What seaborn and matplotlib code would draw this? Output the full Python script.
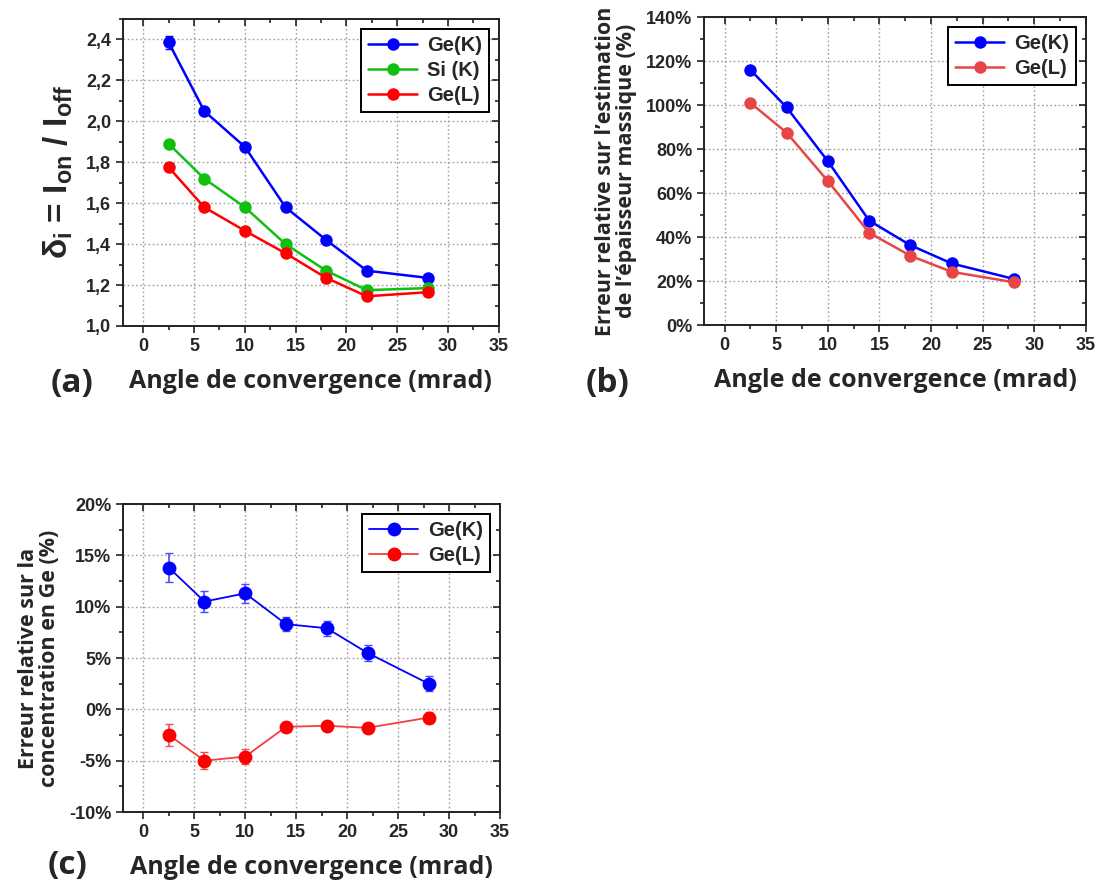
import numpy as np
import pandas as pd
import matplotlib
matplotlib.use("Agg")
import matplotlib.pyplot as plt
from matplotlib.ticker import MultipleLocator, AutoMinorLocator, FuncFormatter
import seaborn as sns

# ---------------- data ----------------
angle = [2.5, 6, 10, 14, 18, 22, 28]

# (a) delta_i = I_on / I_off
a_geK = [2.385, 2.05, 1.875, 1.58, 1.42, 1.27, 1.235]
a_geK_err = [0.03, 0.012, 0.01, 0.01, 0.008, 0.008, 0.008]
a_siK = [1.89, 1.72, 1.58, 1.40, 1.27, 1.175, 1.185]
a_geL = [1.775, 1.58, 1.465, 1.355, 1.235, 1.145, 1.165]

# (b) relative error on mass thickness (%)
b_geK = [116, 99, 74.5, 47.5, 36.3, 28, 21]
b_geL = [101, 87.5, 65.5, 42, 31.5, 24.2, 19.5]

# (c) relative error on Ge concentration (%)
c_geK = [13.8, 10.5, 11.3, 8.3, 7.9, 5.5, 2.5]
c_geK_err = [1.4, 1.0, 0.9, 0.7, 0.75, 0.75, 0.7]
c_geL = [-2.5, -5.0, -4.6, -1.7, -1.6, -1.8, -0.8]
c_geL_err = [1.1, 0.8, 0.7, 0.5, 0.5, 0.5, 0.5]

xlabel = "Angle de convergence (mrad)"

# ---------------- style ----------------
sns.set_theme(style="ticks")
plt.rcParams["font.family"] = ["Liberation Sans", "DejaVu Sans"]
plt.rcParams["font.weight"] = "bold"
plt.rcParams["mathtext.fontset"] = "custom"
plt.rcParams["mathtext.rm"] = "Liberation Sans:bold"
plt.rcParams["mathtext.bf"] = "Liberation Sans:bold"
plt.rcParams["mathtext.it"] = "Liberation Sans:bold"

LBL_FONT = ["Open Sans", "DejaVu Sans"]

BLUE = "#0000ff"
GREEN = "#10c010"
RED = "#ff0000"
RED_B = "#e84646"

fig = plt.figure(figsize=(10.96, 8.81), dpi=100)
ax_a = fig.add_axes([0.1122, 0.630, 0.343, 0.3485])
ax_b = fig.add_axes([0.6423, 0.631, 0.3485, 0.3496])
ax_c = fig.add_axes([0.1122, 0.0783, 0.344, 0.3496])


def style_axes(ax):
    ax.set_xlim(-2, 35)
    ax.xaxis.set_major_locator(MultipleLocator(5))
    ax.xaxis.set_minor_locator(MultipleLocator(2.5))
    for s in ax.spines.values():
        s.set_visible(True)
        s.set_linewidth(1.4)
        s.set_color("#222222")
    ax.tick_params(which="both", top=True, right=True, bottom=True, left=True,
                   width=1.2, color="#222222", direction="out")
    ax.tick_params(which="major", length=5, labelsize=13)
    ax.tick_params(which="minor", length=3)
    # top/right ticks point inward
    for t in ax.xaxis.get_major_ticks() + ax.xaxis.get_minor_ticks():
        t.tick2line.set_marker(3)
    for t in ax.yaxis.get_major_ticks() + ax.yaxis.get_minor_ticks():
        t.tick2line.set_marker(0)
    ax.grid(True, which="major", linestyle=(0, (1.2, 1.8)), color="#a0a0a0", linewidth=1.0)
    ax.set_axisbelow(True)
    for lab in ax.get_xticklabels() + ax.get_yticklabels():
        lab.set_fontweight("bold")
    ax.set_xlabel(xlabel, fontsize=18, fontweight="bold", family=LBL_FONT, labelpad=10)


def legend(ax, fs=14.5):
    leg = ax.legend(loc="upper right", frameon=True, fancybox=False, fontsize=fs,
                    handlelength=2.4, borderpad=0.35, labelspacing=0.3,
                    handletextpad=0.5, borderaxespad=0.5)
    leg.get_frame().set_edgecolor("black")
    leg.get_frame().set_linewidth(1.4)
    leg.get_frame().set_alpha(1)
    for t in leg.get_texts():
        t.set_fontweight("bold")


# ---------------- (a) ----------------
df_a = pd.DataFrame({
    "angle": angle * 3,
    "val": a_geK + a_siK + a_geL,
    "serie": ["Ge(K)"] * 7 + ["Si (K)"] * 7 + ["Ge(L)"] * 7,
})
ax_a.errorbar(angle, a_geK, yerr=a_geK_err, fmt="none", ecolor=BLUE, elinewidth=1, capsize=3, zorder=2)
sns.lineplot(data=df_a, x="angle", y="val", hue="serie", ax=ax_a,
             palette={"Ge(K)": BLUE, "Si (K)": GREEN, "Ge(L)": RED},
             marker="o", markersize=9, markeredgecolor="none", linewidth=1.8, zorder=3)
ax_a.set_ylim(1.0, 2.5)
ax_a.yaxis.set_major_locator(MultipleLocator(0.2))
ax_a.yaxis.set_minor_locator(MultipleLocator(0.1))
ax_a.yaxis.set_major_formatter(FuncFormatter(lambda v, p: f"{v:.1f}".replace(".", ",")))
style_axes(ax_a)
ax_a.set_ylabel(r"$\delta_\mathrm{i}$ = I$_\mathrm{on}$ / I$_\mathrm{off}$", fontsize=24,
                fontweight="bold", labelpad=8)
legend(ax_a)

# ---------------- (b) ----------------
df_b = pd.DataFrame({
    "angle": angle * 2,
    "val": b_geK + b_geL,
    "serie": ["Ge(K)"] * 7 + ["Ge(L)"] * 7,
})
sns.lineplot(data=df_b, x="angle", y="val", hue="serie", ax=ax_b,
             palette={"Ge(K)": BLUE, "Ge(L)": RED_B},
             marker="o", markersize=9, markeredgecolor="none", linewidth=1.8, zorder=3)
ax_b.set_ylim(0, 140)
ax_b.yaxis.set_major_locator(MultipleLocator(20))
ax_b.yaxis.set_minor_locator(MultipleLocator(10))
ax_b.yaxis.set_major_formatter(FuncFormatter(lambda v, p: f"{v:.0f}%"))
style_axes(ax_b)
ax_b.set_ylabel("Erreur relative sur l\u2019estimation\nde l\u2019\u00e9paisseur massique (%)",
                fontsize=15.5, fontweight="bold", family=LBL_FONT, labelpad=6, linespacing=1.05)
legend(ax_b)

# ---------------- (c) ----------------
ax_c.errorbar(angle, c_geK, yerr=c_geK_err, fmt="none", ecolor="#4a4aff", elinewidth=1.2, capsize=3, zorder=2)
ax_c.errorbar(angle, c_geL, yerr=c_geL_err, fmt="none", ecolor="#f05050", elinewidth=1.2, capsize=3, zorder=2)
df_c = pd.DataFrame({
    "angle": angle * 2,
    "val": c_geK + c_geL,
    "serie": ["Ge(K)"] * 7 + ["Ge(L)"] * 7,
})
sns.lineplot(data=df_c, x="angle", y="val", hue="serie", ax=ax_c,
             palette={"Ge(K)": BLUE, "Ge(L)": RED},
             marker="o", markersize=10, markeredgecolor="none", linewidth=1.3, zorder=3)
for ln in ax_c.get_lines():
    if ln.get_color() in (RED, "#ff0000"):
        ln.set_color("#f04040")
        ln.set_markerfacecolor(RED)
ax_c.set_ylim(-10, 20)
ax_c.yaxis.set_major_locator(MultipleLocator(5))
ax_c.yaxis.set_minor_locator(MultipleLocator(2.5))
ax_c.yaxis.set_major_formatter(FuncFormatter(lambda v, p: f"{v:.0f}%"))
style_axes(ax_c)
ax_c.set_ylabel("Erreur relative sur la\nconcentration en Ge (%)",
                fontsize=15.5, fontweight="bold", family=LBL_FONT, labelpad=6, linespacing=1.05)
legend(ax_c)

# panel letters
fig.text(0.046, 0.555, "(a)", fontsize=24, fontweight="bold", family=LBL_FONT)
fig.text(0.534, 0.555, "(b)", fontsize=24, fontweight="bold", family=LBL_FONT)
fig.text(0.043, 0.008, "(c)", fontsize=24, fontweight="bold", family=LBL_FONT)

fig.savefig("out.png", dpi=100)
